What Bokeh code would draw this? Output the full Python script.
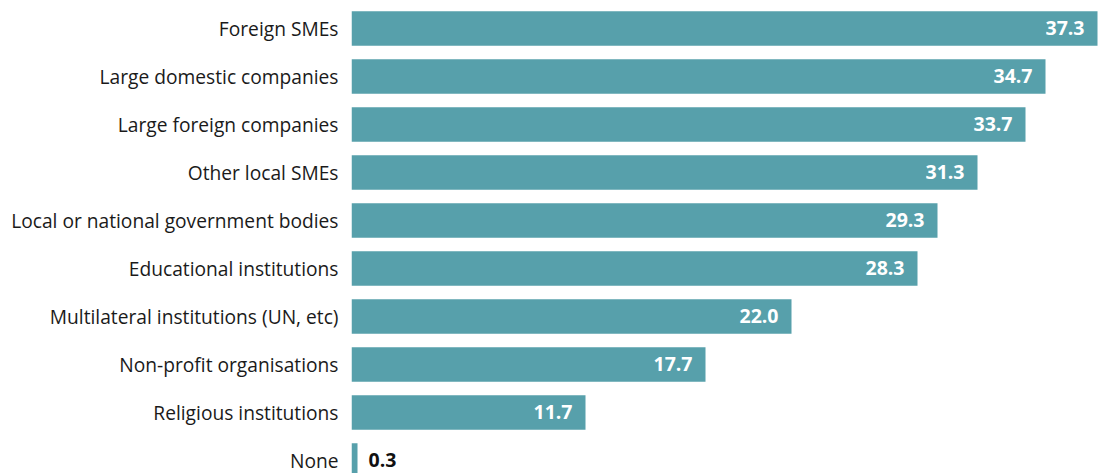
from bokeh.plotting import figure
from bokeh.models import ColumnDataSource, Range1d, FixedTicker
from bokeh.embed import file_html
from bokeh.resources import INLINE
from bokeh.core.properties import value

categories = [
    "Foreign SMEs",
    "Large domestic companies",
    "Large foreign companies",
    "Other local SMEs",
    "Local or national government bodies",
    "Educational institutions",
    "Multilateral institutions (UN, etc)",
    "Non-profit organisations",
    "Religious institutions",
    "None",
]
values = [37.3, 34.7, 33.7, 31.3, 29.3, 28.3, 22.0, 17.7, 11.7, 0.3]

BAR = "#57a0ab"
FONT = "Open Sans"

pos = list(range(len(categories)))
labels = [f"{v:.1f}" for v in values]

src = ColumnDataSource(dict(y=pos, v=values, lab=labels))
inside = ColumnDataSource(dict(
    y=[p for p, v in zip(pos, values) if v >= 3],
    v=[v for v in values if v >= 3],
    lab=[l for l, v in zip(labels, values) if v >= 3],
))
outside = ColumnDataSource(dict(
    y=[p for p, v in zip(pos, values) if v < 3],
    v=[v for v in values if v < 3],
    lab=[l for l, v in zip(labels, values) if v < 3],
))

p = figure(width=1101, height=473, output_backend="svg", toolbar_location=None,
           x_range=Range1d(0, 37.5),
           y_range=Range1d(start=9.271, end=-0.5833),
           min_border_left=351, min_border_right=0, min_border_top=0, min_border_bottom=0)

p.hbar(y="y", left=0, right="v", height=0.72, source=src, color=BAR, line_color=None)

p.text(x="v", y="y", text="lab", source=inside, x_offset=-13,
       text_align="right", text_baseline="middle", text_color="white",
       text_font=value(FONT), text_font_style="bold", text_font_size="19.5px")
p.text(x="v", y="y", text="lab", source=outside, x_offset=11,
       text_align="left", text_baseline="middle", text_color="#111111",
       text_font=value(FONT), text_font_style="bold", text_font_size="19.5px")

p.xaxis.visible = False
yax = p.yaxis[0]
yax.ticker = FixedTicker(ticks=pos)
yax.major_label_overrides = {i: c for i, c in enumerate(categories)}
yax.axis_line_color = None
yax.major_tick_line_color = None
yax.minor_tick_line_color = None
yax.major_tick_out = 0
yax.major_tick_in = 0
yax.major_label_standoff = 13
yax.major_label_text_font = FONT
yax.major_label_text_font_size = "19.2px"
yax.major_label_text_color = "#1a1a1a"

p.grid.visible = False
p.outline_line_color = None
p.background_fill_color = "white"
p.border_fill_color = "white"

open("out.html", "w").write(file_html(p, INLINE))
